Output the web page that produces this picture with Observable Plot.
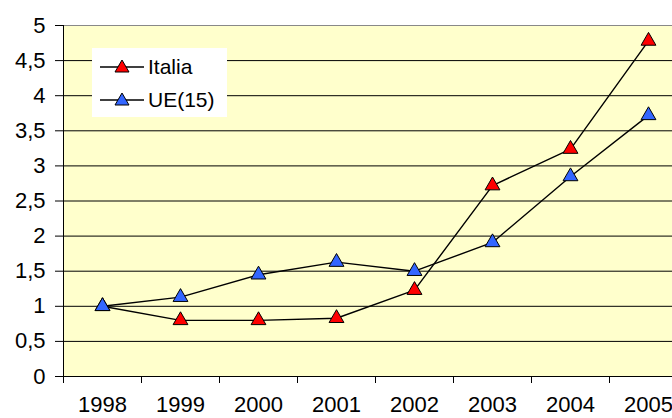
<!DOCTYPE html>
<html>
<head>
<meta charset="utf-8">
<script src="https://cdn.jsdelivr.net/npm/d3@7"></script>
<script src="https://cdn.jsdelivr.net/npm/@observablehq/plot@0.6"></script>
<style>
  html, body { margin: 0; padding: 0; background: #fff; overflow: hidden; }
  #wrap { position: relative; width: 672px; height: 418px; font-family: "Liberation Sans", Arial, sans-serif; }
  #wrap svg { overflow: hidden; }
  #legend { position: absolute; left: 92px; top: 48px; width: 135px; height: 69px; background: #fff; font-size: 21px; color: #000; }
  .item { position: absolute; left: 8px; height: 20px; display: flex; align-items: center; }
  .item span { margin-left: 4px; }
</style>
</head>
<body>
<div id="wrap"></div>
<script>
const years = [1998, 1999, 2000, 2001, 2002, 2003, 2004, 2005];
const italia = [1.0, 0.80, 0.80, 0.83, 1.23, 2.72, 3.24, 4.78];
const ue15 = [1.0, 1.13, 1.45, 1.63, 1.50, 1.91, 2.85, 3.72];
const yTicks = [0, 0.5, 1, 1.5, 2, 2.5, 3, 3.5, 4, 4.5, 5];
const seriesNames = ["Italia", "UE(15)"];
const seriesColors = ["#ff0000", "#3366ff"];

const rows = [];
years.forEach((y, i) => {
  rows.push({year: y, value: italia[i], series: seriesNames[0]});
  rows.push({year: y, value: ue15[i], series: seriesNames[1]});
});
const boundaries = years.map(y => y - 0.5).concat([years[years.length - 1] + 0.5]);
const fmt = d => String(d).replace(".", ",");

const chart = Plot.plot({
  width: 672,
  height: 418,
  marginLeft: 63,
  marginTop: 25,
  marginBottom: 42,
  marginRight: 0,
  style: {fontFamily: "'Liberation Sans', Arial, sans-serif", fontSize: "22px", background: "transparent"},
  x: {domain: [boundaries[0], boundaries[boundaries.length - 1]], range: [63, 687]},
  y: {domain: [0, 5]},
  color: {domain: seriesNames, range: seriesColors},
  marks: [
    Plot.frame({fill: "#ffffcc", stroke: null}),
    Plot.ruleY(yTicks.filter(d => d > 0 && d < 5), {stroke: "#000", strokeWidth: 1}),
    Plot.ruleY([5], {stroke: "#888", strokeWidth: 1.2}),
    Plot.axisY({ticks: yTicks, tickFormat: fmt, tickSize: 8, tickPadding: 10, fontSize: 22, color: "#000", label: null, stroke: "#000"}),
    Plot.axisX({ticks: boundaries, tickSize: 7, tickFormat: () => "", label: null, stroke: "#000"}),
    Plot.axisX({ticks: years, tickSize: 0, tickPadding: 20, tickFormat: d => String(d), fontSize: 22, color: "#000", label: null}),
    Plot.ruleX([boundaries[0]], {stroke: "#000", strokeWidth: 1}),
    Plot.ruleY([0], {stroke: "#000", strokeWidth: 1}),
    Plot.line(rows, {x: "year", y: "value", z: "series", stroke: "#000", strokeWidth: 1.4}),
    Plot.dot(rows, {x: "year", y: "value", fill: "series", symbol: "triangle", r: 5.5, stroke: "#000", strokeWidth: 1})
  ]
});
document.getElementById("wrap").appendChild(chart);

const legend = document.createElement("div");
legend.id = "legend";
seriesNames.forEach((name, i) => {
  const item = document.createElement("div");
  item.className = "item";
  item.style.top = (i === 0 ? 9 : 42) + "px";
  item.innerHTML = `<svg width="44" height="20"><line x1="0" y1="10" x2="44" y2="10" stroke="#000" stroke-width="1.3"/><path d="M22,3 L29,15 L15,15 Z" fill="${seriesColors[i]}" stroke="#000" stroke-width="1"/></svg><span>${name}</span>`;
  legend.appendChild(item);
});
document.getElementById("wrap").appendChild(legend);
</script>
</body>
</html>
